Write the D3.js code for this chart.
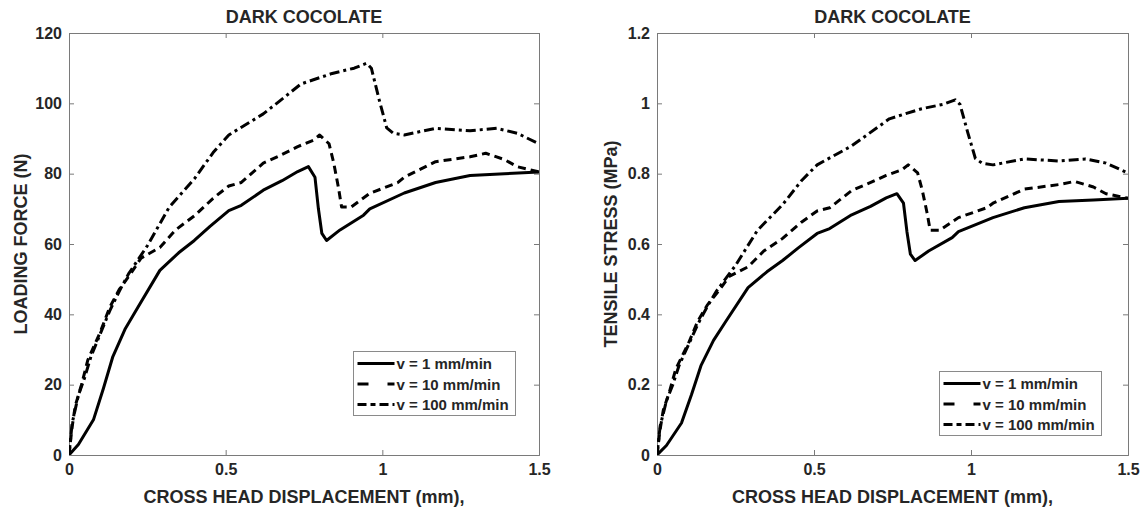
<!DOCTYPE html>
<html>
<head>
<meta charset="utf-8">
<script src="https://cdn.jsdelivr.net/npm/d3@7"></script>
<style>
  body { margin: 0; background: #fff; }
  text { font-family: "Liberation Sans", Arial, sans-serif; font-weight: bold; fill: #262626; }
</style>
</head>
<body>
<div id="my_dataviz"></div>
<script>
// values
var seriesNames = ["v = 1 mm/min", "v = 10 mm/min", "v = 100 mm/min"]
var xTicks = [0, 0.5, 1, 1.5]
var forceTicks = [0, 20, 40, 60, 80, 100, 120]
var stressTicks = [0, 0.2, 0.4, 0.6, 0.8, 1, 1.2]

var disp1 = [0, 0.03, 0.078, 0.11, 0.14, 0.18, 0.22, 0.29, 0.35, 0.40, 0.45, 0.51, 0.55, 0.62, 0.68, 0.73, 0.764, 0.785, 0.796, 0.807, 0.822, 0.865, 0.94, 0.96, 1.07, 1.17, 1.28, 1.39, 1.5]
var force1 = [0, 3, 10, 19, 28, 36, 42, 52.5, 57.5, 61, 65, 69.5, 71, 75.3, 78, 80.6, 82, 79, 70, 63, 61, 64, 68.2, 70, 74.5, 77.5, 79.5, 80, 80.5]
var stress1 = [0, 0.027, 0.091, 0.172, 0.254, 0.326, 0.381, 0.476, 0.521, 0.553, 0.589, 0.630, 0.644, 0.683, 0.707, 0.731, 0.743, 0.716, 0.635, 0.571, 0.553, 0.580, 0.618, 0.635, 0.675, 0.703, 0.721, 0.725, 0.730]

var disp10 = [0, 0.01, 0.02, 0.04, 0.06, 0.08, 0.10, 0.13, 0.16, 0.20, 0.23, 0.29, 0.34, 0.40, 0.46, 0.51, 0.55, 0.62, 0.67, 0.73, 0.78, 0.80, 0.83, 0.845, 0.86, 0.87, 0.90, 0.96, 1.05, 1.07, 1.17, 1.28, 1.33, 1.39, 1.43, 1.5]
var force10 = [0, 8, 14, 20, 27, 31, 35, 42, 47, 52, 56, 59, 64, 68, 73, 76.5, 77.5, 83, 85, 87.7, 89.5, 91, 88.5, 83, 76, 70.5, 70.5, 74.4, 77.5, 79, 83.4, 84.8, 85.8, 84, 82, 80.5]
var stress10 = [0, 0.073, 0.127, 0.181, 0.245, 0.281, 0.317, 0.381, 0.426, 0.471, 0.508, 0.535, 0.580, 0.616, 0.662, 0.694, 0.703, 0.752, 0.771, 0.795, 0.811, 0.825, 0.802, 0.752, 0.689, 0.639, 0.639, 0.675, 0.703, 0.716, 0.756, 0.769, 0.778, 0.762, 0.743, 0.730]

var disp100 = [0, 0.01, 0.03, 0.05, 0.07, 0.10, 0.13, 0.16, 0.19, 0.25, 0.32, 0.40, 0.46, 0.51, 0.62, 0.67, 0.74, 0.84, 0.91, 0.95, 0.965, 0.99, 1.014, 1.035, 1.07, 1.17, 1.28, 1.365, 1.43, 1.5]
var force100 = [0, 9, 17, 22, 28, 34.5, 41, 46.5, 51.5, 59.5, 70.5, 78.5, 86, 91, 97, 100.5, 105.5, 108.5, 110, 111.4, 110, 101, 93, 91.5, 91, 92.9, 92.2, 92.9, 91.5, 88.5]
var stress100 = [0, 0.082, 0.154, 0.199, 0.254, 0.313, 0.372, 0.422, 0.467, 0.539, 0.639, 0.712, 0.780, 0.825, 0.879, 0.911, 0.956, 0.984, 0.997, 1.010, 0.997, 0.916, 0.843, 0.830, 0.825, 0.842, 0.836, 0.842, 0.830, 0.802]

var width = 1145
var height = 512

// dash styles: solid, dashed, dash-dot
var plotDash = [null, "8,5", "10,4,3,4"]
var legendDash = [null, "11,19", "9,4,5,4"]
var lineWidth = 3

var svg = d3.select("#my_dataviz")
  .append("svg")
  .attr("width", width)
  .attr("height", height)

function zip(xs, ys) {
  return xs.map(function(x, i) { return [x, ys[i]] })
}

function makePanel(opt) {
  var x = d3.scaleLinear().domain([0, 1.5]).range([opt.left, opt.right])
  var y = d3.scaleLinear().domain([0, opt.yMax]).range([455, 33])
  var g = svg.append("g")

  g.append("clipPath").attr("id", opt.id)
    .append("rect")
    .attr("x", opt.left).attr("y", 33)
    .attr("width", opt.right - opt.left).attr("height", 422)

  // box with inward ticks on all four sides
  var axisColor = "#7a7a7a"
  var axes = [
    d3.axisBottom(x).tickValues(xTicks).tickSize(-5).tickPadding(9).tickFormat(d3.format("")),
    d3.axisTop(x).tickValues(xTicks).tickSize(-5).tickFormat(""),
    d3.axisLeft(y).tickValues(opt.yTicks).tickSize(-5).tickPadding(7).tickFormat(d3.format("")),
    d3.axisRight(y).tickValues(opt.yTicks).tickSize(-5).tickFormat("")
  ]
  var shifts = ["translate(0,455)", "translate(0,33)", "translate(" + opt.left + ",0)", "translate(" + opt.right + ",0)"]
  axes.forEach(function(ax, i) {
    var a = g.append("g").attr("transform", shifts[i]).call(ax)
    a.selectAll("path, line").attr("stroke", axisColor)
    a.selectAll("text").attr("font-size", 16).attr("fill", "#262626")
      .attr("font-family", "Liberation Sans, Arial, sans-serif").attr("font-weight", "bold")
  })

  var line = d3.line()
    .x(function(d) { return x(d[0]) })
    .y(function(d) { return y(d[1]) })

  opt.series.forEach(function(s, i) {
    g.append("path")
      .datum(s)
      .attr("clip-path", "url(#" + opt.id + ")")
      .attr("fill", "none")
      .attr("stroke", "#000")
      .attr("stroke-width", lineWidth)
      .attr("stroke-linejoin", "round")
      .attr("stroke-dasharray", plotDash[i])
      .attr("d", line)
  })

  var cx = (opt.left + opt.right) / 2
  g.append("text")
    .attr("x", cx).attr("y", 23)
    .attr("text-anchor", "middle").attr("font-size", 18)
    .text("DARK COCOLATE")

  g.append("text")
    .attr("x", cx).attr("y", 503)
    .attr("text-anchor", "middle").attr("font-size", 18)
    .text("CROSS HEAD DISPLACEMENT (mm),")

  g.append("text")
    .attr("transform", "translate(" + opt.yLabelX + ",244) rotate(-90)")
    .attr("text-anchor", "middle").attr("font-size", 18)
    .text(opt.yLabel)

  // legend
  var lg = g.append("g").attr("transform", "translate(" + opt.legendX + "," + opt.legendY + ")")
  lg.append("rect")
    .attr("width", 162).attr("height", 64)
    .attr("fill", "#fff").attr("stroke", "#8a8a8a").attr("stroke-width", 1)
  seriesNames.forEach(function(name, i) {
    var ry = 12 + i * 20.5
    lg.append("line")
      .attr("x1", 4).attr("x2", 41).attr("y1", ry).attr("y2", ry)
      .attr("stroke", "#000").attr("stroke-width", lineWidth)
      .attr("stroke-dasharray", legendDash[i])
    lg.append("text")
      .attr("x", 43).attr("y", ry + 5.5)
      .attr("font-size", 15)
      .text(name)
  })
}

makePanel({
  id: "clipL", left: 69, right: 539, yMax: 120, yTicks: forceTicks,
  yLabel: "LOADING FORCE (N)", yLabelX: 27,
  legendX: 353.5, legendY: 351.5,
  series: [zip(disp1, force1), zip(disp10, force10), zip(disp100, force100)]
})

makePanel({
  id: "clipR", left: 657, right: 1128, yMax: 1.2, yTicks: stressTicks,
  yLabel: "TENSILE STRESS (MPa)", yLabelX: 617,
  legendX: 939.5, legendY: 371.5,
  series: [zip(disp1, stress1), zip(disp10, stress10), zip(disp100, stress100)]
})
</script>
</body>
</html>
